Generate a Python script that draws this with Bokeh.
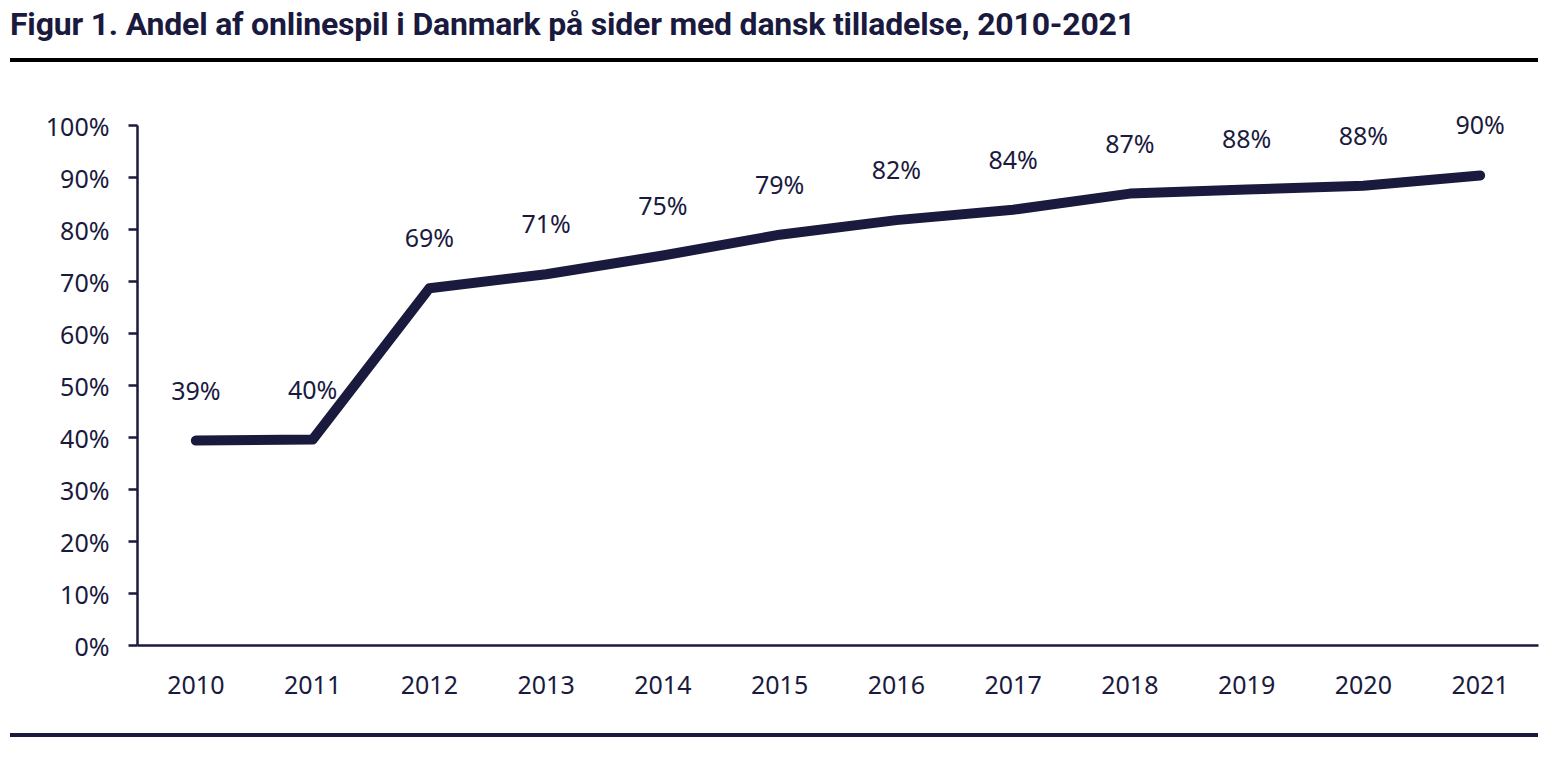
from bokeh.plotting import figure
from bokeh.layouts import column
from bokeh.models import (ColumnDataSource, FactorRange, Range1d, Div,
                          CustomJSTickFormatter, FixedTicker)
from bokeh.embed import file_html
from bokeh.resources import INLINE
from bokeh.core.properties import value

# Share of online gambling in Denmark on licensed sites (%)
years = ["2010", "2011", "2012", "2013", "2014", "2015",
         "2016", "2017", "2018", "2019", "2020", "2021"]
share = [39.4, 39.6, 68.7, 71.4, 75.0, 79.0, 81.8, 83.8, 86.9, 87.7, 88.4, 90.4]
labels = [f"{round(v)}%" for v in share]
y_ticks = [0, 10, 20, 30, 40, 50, 60, 70, 80, 90, 100]
title_text = "Figur 1. Andel af onlinespil i Danmark på sider med dansk tilladelse, 2010-2021"

NAVY = "#1a1a3e"
FONT = "Noto Sans"
W = 1558
HEAD_H, FIG_H, FOOT_H = 64, 663, 30

src = ColumnDataSource(dict(year=years, share=share, label=labels))

# Heading with a rule underneath
header = Div(
    text=(
        f'<div style="position:relative;width:{W}px;height:{HEAD_H}px;">'
        f'<div style="position:absolute;left:10px;top:4px;white-space:nowrap;'
        f'font-family:Roboto,sans-serif;font-weight:700;font-size:32px;'
        f'letter-spacing:-0.2px;color:{NAVY};line-height:40px;">{title_text}</div>'
        f'<div style="position:absolute;left:10px;top:58px;width:1528px;height:4px;'
        f'background:#000;"></div></div>'
    ),
    width=W, height=HEAD_H, margin=(0, 0, 0, 0),
)

p = figure(width=W, height=FIG_H, x_range=FactorRange(*years, range_padding=0),
           y_range=Range1d(0, 110), output_backend="svg", toolbar_location=None,
           min_border_left=137, min_border_right=20, min_border_top=9,
           min_border_bottom=82, margin=(0, 0, 0, 0))
p.outline_line_color = None
p.xgrid.grid_line_color = None
p.ygrid.grid_line_color = None
p.background_fill_color = "white"
p.border_fill_color = "white"

p.line("year", "share", source=src, line_color=NAVY, line_width=10,
       line_cap="round", line_join="round")
p.text("year", "share", text="label", source=src, y_offset=-51,
       text_align="center", text_baseline="middle", text_color=NAVY,
       text_font=value(FONT), text_font_size="25px")

ya = p.yaxis[0]
ya.bounds = (0, 100)
ya.ticker = FixedTicker(ticks=y_ticks)
ya.formatter = CustomJSTickFormatter(code="return tick + '%';")
ya.axis_line_color = NAVY
ya.axis_line_width = 2.5
ya.major_tick_line_color = NAVY
ya.major_tick_line_width = 2.5
ya.major_tick_out = 9
ya.major_tick_in = 0
ya.minor_tick_line_color = None
ya.major_label_standoff = 19
ya.major_label_text_font = FONT
ya.major_label_text_font_size = "25px"
ya.major_label_text_color = NAVY

xa = p.xaxis[0]
xa.axis_line_color = NAVY
xa.axis_line_width = 2.5
xa.major_tick_line_color = None
xa.minor_tick_line_color = None
xa.major_label_standoff = 24
xa.major_label_text_font = FONT
xa.major_label_text_font_size = "25px"
xa.major_label_text_color = NAVY

# Closing rule below the chart
footer = Div(
    text=(
        f'<div style="position:relative;width:{W}px;height:{FOOT_H}px;">'
        f'<div style="position:absolute;left:10px;top:6px;width:1528px;height:4px;'
        f'background:{NAVY};"></div></div>'
    ),
    width=W, height=FOOT_H, margin=(0, 0, 0, 0),
)

layout = column(header, p, footer, spacing=0)
open("out.html", "w").write(file_html(layout, INLINE))
